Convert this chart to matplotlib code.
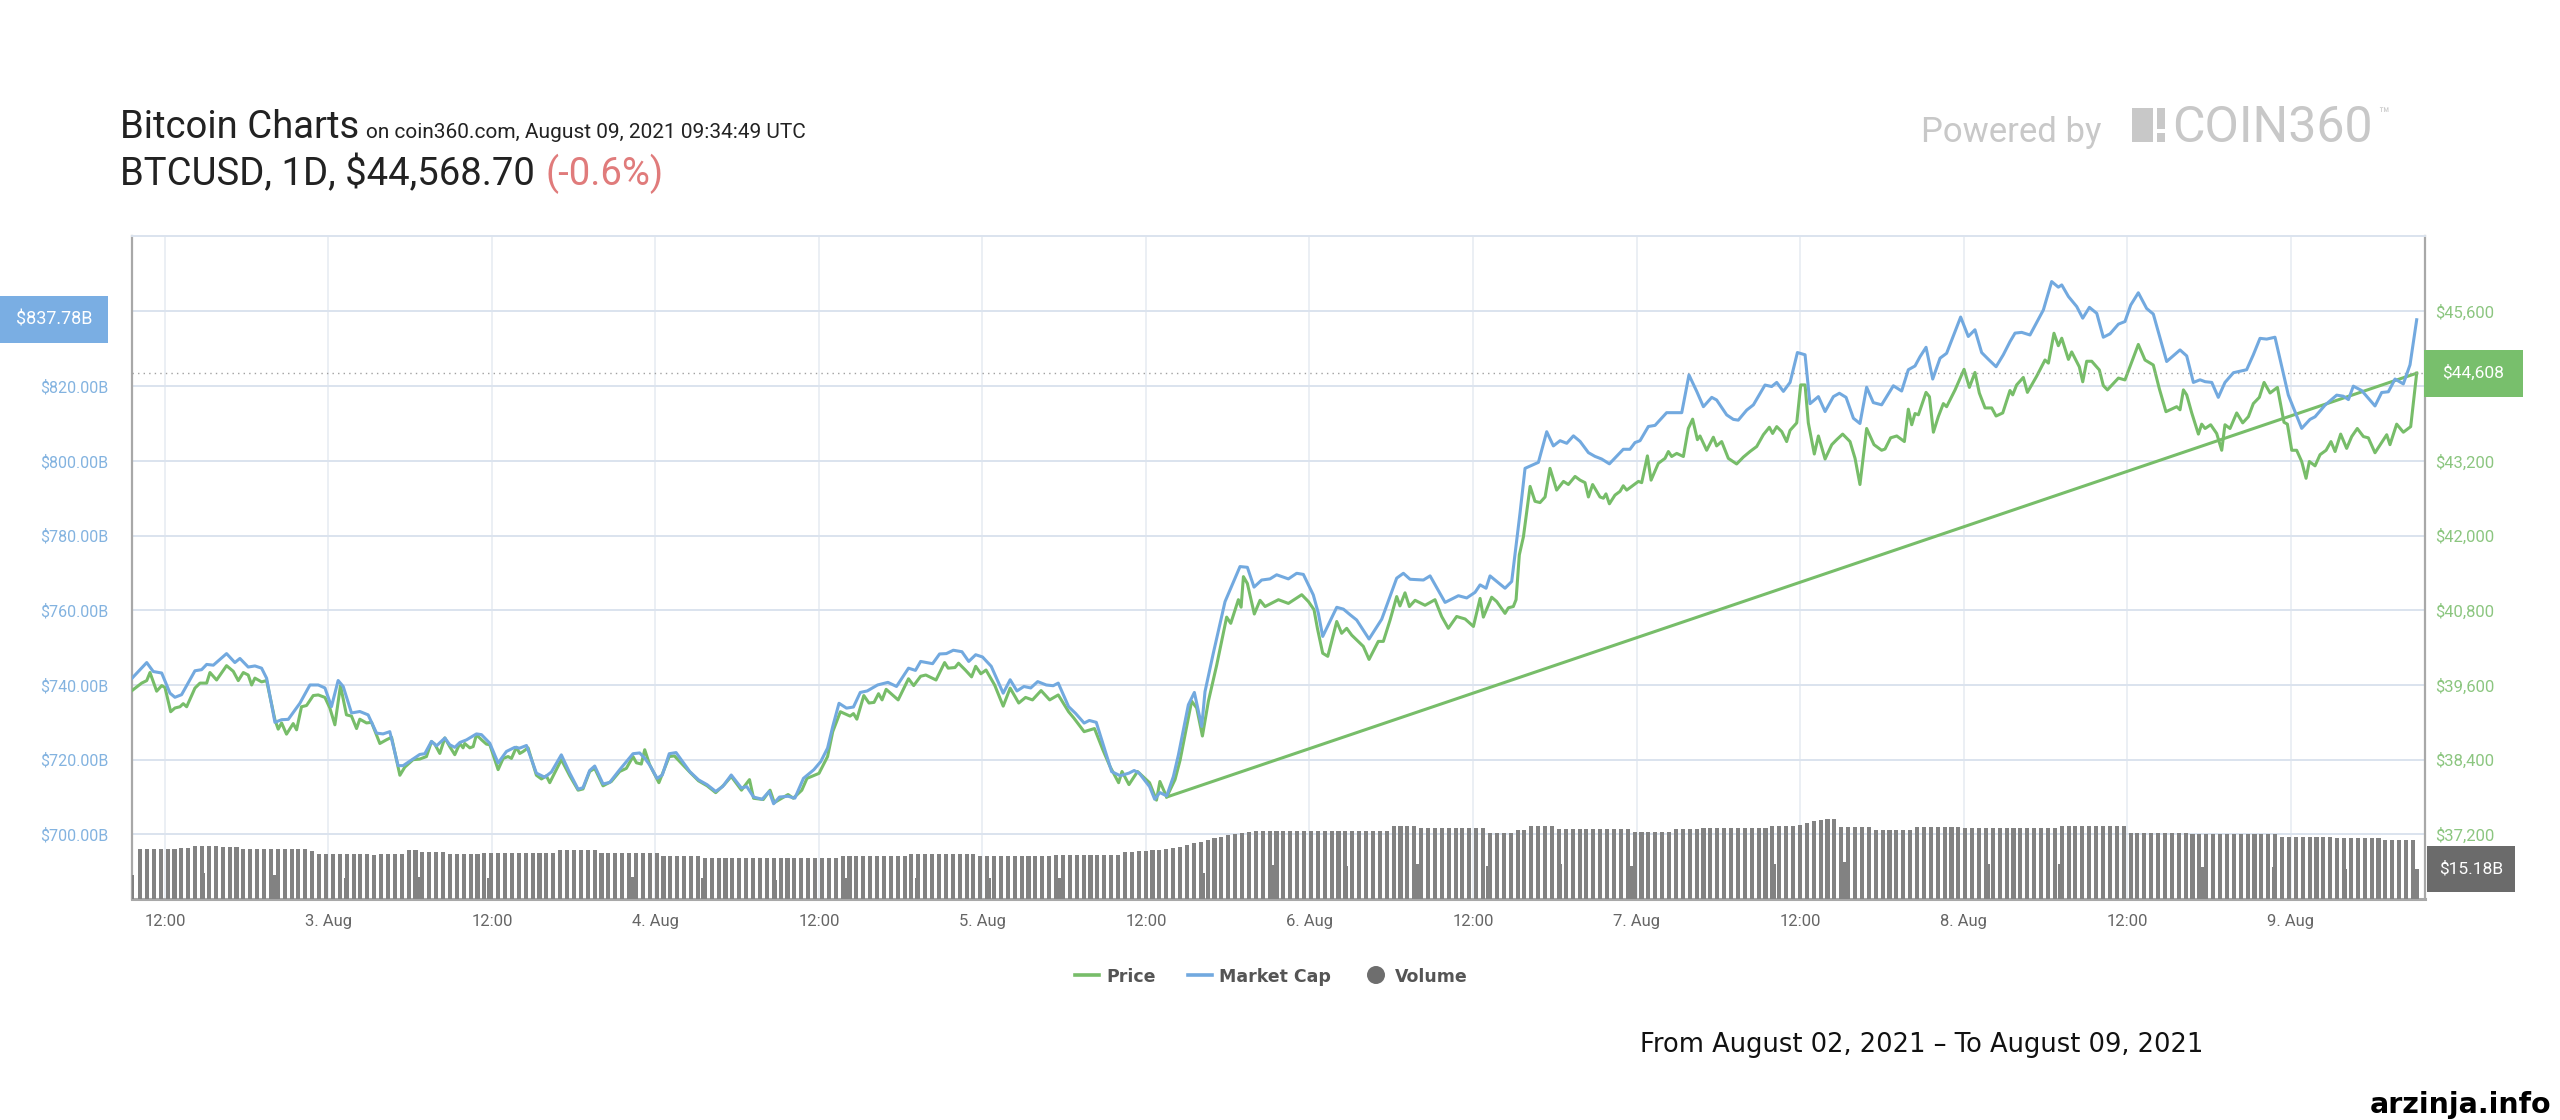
import numpy as np
import matplotlib
matplotlib.use("Agg")
import matplotlib.pyplot as plt
from matplotlib.patches import Rectangle, Ellipse
from matplotlib.lines import Line2D

plt.rcParams['font.family'] = ['Roboto', 'DejaVu Sans']

# ---------------- data (hours since 2021-08-02 00:00 UTC) ----------------
mcap_points = [  # market cap, $B
    (9.58, 741.8), (10.66, 746.0), (11.14, 743.6), (11.76, 743.2), (12.37, 737.8), (12.73, 736.7),
    (13.22, 737.4), (14.2, 743.8), (14.69, 744.1), (15.06, 745.5), (15.55, 745.3), (16.52, 748.4),
    (17.13, 746.0), (17.5, 747.1), (18.11, 744.8), (18.6, 745.1), (19.09, 744.5), (19.46, 741.8),
    (20.07, 730.0), (20.56, 730.7), (21.05, 730.8), (21.9, 735.1), (22.64, 740.0), (23.25, 740.0),
    (23.74, 739.2), (24.22, 734.2), (24.71, 741.2), (25.08, 739.6), (25.69, 732.5), (26.3, 732.9),
    (26.91, 732.0), (27.53, 727.1), (28.01, 726.9), (28.5, 727.5), (29.11, 718.4), (29.48, 718.4),
    (30.21, 720.2), (30.7, 721.4), (31.07, 721.6), (31.56, 724.9), (31.93, 723.7), (32.54, 725.8),
    (32.9, 724.0), (33.27, 723.3), (33.64, 724.6), (34.13, 725.3), (34.86, 726.9), (35.23, 726.7),
    (35.84, 724.4), (36.45, 719.1), (37.06, 722.2), (37.67, 723.3), (38.04, 723.1), (38.53, 723.8),
    (39.26, 716.4), (39.87, 715.3), (40.36, 716.7), (41.09, 721.3), (41.71, 716.4), (42.32, 712.1),
    (42.68, 712.5), (43.17, 717.1), (43.54, 718.3), (44.15, 713.5), (44.64, 713.9), (45.37, 717.3),
    (46.35, 721.6), (46.84, 721.8), (47.21, 720.4), (47.57, 718.6), (48.12, 715.0), (48.5, 715.9),
    (49.01, 721.6), (49.51, 721.9), (50.52, 716.8), (51.16, 714.6), (51.79, 713.3), (52.42, 711.5),
    (52.93, 712.8), (53.56, 715.9), (54.31, 712.4), (54.7, 712.8), (55.2, 710.0), (55.83, 709.4),
    (56.34, 711.5), (56.67, 708.2), (57.1, 710.0), (57.73, 710.2), (58.23, 709.7), (58.86, 715.0),
    (59.62, 717.3), (60.13, 719.5), (60.63, 723.1), (61.01, 728.9), (61.47, 735.1), (62.02, 733.8),
    (62.53, 734.1), (63.03, 738.0), (63.54, 738.4), (64.3, 740.0), (65.06, 740.7), (65.69, 739.6),
    (66.57, 744.5), (67.08, 743.9), (67.46, 746.3), (68.34, 745.7), (68.85, 748.3), (69.35, 748.4),
    (69.86, 749.3), (70.49, 748.9), (70.99, 746.3), (71.5, 748.1), (72.0, 747.5), (72.64, 745.0),
    (73.52, 737.8), (74.03, 741.4), (74.53, 738.4), (75.04, 739.6), (75.54, 739.2), (76.05, 740.9),
    (76.68, 740.0), (77.19, 739.8), (77.56, 740.5), (78.32, 734.2), (78.83, 732.4), (79.46, 729.8),
    (79.84, 730.5), (80.35, 730.0), (80.98, 722.6), (81.48, 716.8), (82.11, 715.7), (82.75, 716.4),
    (83.13, 717.1), (83.5, 716.4), (84.26, 712.8), (84.64, 709.4), (85.02, 711.2), (85.52, 710.3),
    (86.01, 715.5), (86.38, 721.3), (87.11, 734.7), (87.55, 738.0), (88.09, 728.9), (88.33, 738.2),
    (88.94, 748.5), (89.8, 762.3), (90.9, 771.7), (91.44, 771.5), (91.93, 766.2), (92.49, 768.1),
    (93.1, 768.4), (93.59, 769.5), (94.45, 768.4), (95.06, 769.9), (95.55, 769.6), (96.28, 764.1),
    (96.65, 759.2), (96.97, 753.0), (98.0, 760.8), (98.49, 760.3), (98.98, 758.8), (99.46, 757.4),
    (100.37, 752.3), (101.3, 757.6), (102.4, 768.6), (102.89, 769.9), (103.38, 768.3), (104.36, 768.1),
    (104.85, 769.2), (105.95, 762.1), (106.93, 763.9), (107.54, 763.3), (108.15, 764.8), (108.52, 766.8),
    (108.96, 765.9), (109.25, 769.2), (110.35, 765.9), (110.84, 767.7), (111.45, 786.0), (111.82, 798.0),
    (112.8, 799.6), (113.41, 807.8), (113.9, 804.0), (114.39, 805.4), (114.88, 804.7), (115.37, 806.7),
    (115.86, 805.2), (116.47, 802.2), (116.95, 801.2), (117.44, 800.5), (118.01, 799.2), (119.03, 803.1),
    (119.52, 803.1), (119.89, 804.9), (120.26, 805.4), (120.87, 809.2), (121.36, 809.5), (122.21, 812.9),
    (123.32, 812.9), (123.85, 823.0), (124.42, 818.6), (124.91, 814.5), (125.52, 817.0), (125.88, 816.3),
    (126.62, 812.3), (127.11, 811.1), (127.47, 810.9), (128.09, 813.6), (128.58, 815.0), (129.43, 820.3),
    (129.92, 819.9), (130.29, 821.0), (130.78, 818.6), (131.27, 821.0), (131.81, 829.0), (132.37, 828.4),
    (132.73, 815.3), (133.35, 817.2), (133.84, 813.2), (134.45, 817.2), (134.89, 818.1), (135.38, 817.0),
    (135.92, 811.4), (136.4, 810.0), (136.89, 819.7), (137.38, 815.6), (137.99, 815.0), (138.85, 820.1),
    (139.46, 818.7), (139.95, 824.4), (140.44, 825.4), (140.81, 827.9), (141.25, 830.4), (141.74, 821.9),
    (142.28, 827.5), (142.76, 828.8), (143.79, 838.5), (144.35, 833.3), (144.84, 835.1), (145.33, 829.0),
    (145.82, 827.2), (146.39, 825.2), (146.92, 828.4), (147.41, 831.9), (147.78, 834.2), (148.27, 834.4),
    (148.88, 833.7), (149.86, 840.4), (150.47, 848.0), (150.96, 846.5), (151.21, 847.1), (151.7, 844.0),
    (152.31, 841.3), (152.75, 838.2), (153.24, 841.1), (153.78, 839.5), (154.26, 833.1), (154.75, 834.0),
    (155.37, 836.6), (155.85, 837.3), (156.27, 841.7), (156.83, 845.0), (157.44, 840.8), (157.93, 839.3),
    (158.91, 826.6), (159.89, 829.7), (160.38, 828.1), (160.87, 821.0), (161.36, 821.7), (161.73, 821.2),
    (162.22, 821.0), (162.7, 817.0), (163.19, 821.0), (163.81, 823.6), (164.78, 824.4), (165.27, 828.4),
    (165.76, 832.8), (166.25, 832.6), (166.86, 833.1), (167.84, 817.6), (168.82, 808.7), (169.43, 811.1),
    (169.8, 811.8), (170.53, 814.9), (171.39, 817.6), (171.88, 817.3), (172.25, 816.4), (172.61, 820.0),
    (173.23, 818.8), (174.2, 814.7), (174.69, 818.3), (175.18, 818.5), (175.67, 821.9), (176.28, 820.6),
    (176.77, 825.7), (177.26, 837.78),
]

price_points = [  # BTC price, USD
    (9.58, 39510), (10.29, 39630), (10.66, 39670), (10.9, 39800), (11.39, 39500), (11.76, 39590),
    (12.0, 39560), (12.42, 39170), (12.73, 39230), (13.1, 39250), (13.34, 39300), (13.59, 39250),
    (14.2, 39550), (14.57, 39630), (15.06, 39630), (15.3, 39800), (15.79, 39680), (16.52, 39910),
    (17.01, 39820), (17.38, 39670), (17.75, 39800), (18.11, 39760), (18.36, 39600), (18.6, 39710),
    (19.09, 39650), (19.46, 39670), (20.07, 39040), (20.31, 38890), (20.56, 38990), (20.92, 38810),
    (21.41, 38980), (21.66, 38880), (22.02, 39250), (22.39, 39270), (22.88, 39430), (23.25, 39440),
    (23.74, 39400), (24.1, 39230), (24.47, 38960), (24.88, 39590), (25.32, 39120), (25.69, 39100),
    (26.06, 38900), (26.3, 39050), (26.79, 38990), (27.16, 39000), (27.77, 38660), (28.26, 38720),
    (28.63, 38760), (29.24, 38150), (29.6, 38280), (30.21, 38400), (30.7, 38410), (31.19, 38450),
    (31.56, 38690), (31.8, 38650), (32.17, 38500), (32.54, 38750), (32.9, 38610), (33.27, 38480),
    (33.64, 38660), (33.88, 38590), (34.0, 38660), (34.37, 38590), (34.62, 38610), (34.86, 38800),
    (35.23, 38720), (35.59, 38650), (35.84, 38640), (36.45, 38240), (36.82, 38420), (37.18, 38450),
    (37.43, 38420), (37.79, 38600), (38.04, 38500), (38.28, 38530), (38.65, 38590), (39.26, 38150),
    (39.63, 38090), (39.99, 38140), (40.24, 38030), (41.09, 38400), (41.71, 38140), (42.32, 37910),
    (42.68, 37930), (43.17, 38210), (43.54, 38260), (44.15, 37980), (44.76, 38050), (45.37, 38210),
    (45.86, 38260), (46.35, 38450), (46.6, 38350), (46.96, 38330), (47.21, 38560), (47.57, 38320),
    (48.25, 38030), (49.01, 38450), (49.39, 38460), (50.52, 38200), (51.16, 38060), (51.79, 37980),
    (52.42, 37870), (53.05, 38000), (53.56, 38130), (54.31, 37910), (54.9, 38080), (55.2, 37780),
    (55.91, 37760), (56.41, 37910), (56.72, 37710), (57.73, 37840), (58.11, 37780), (58.74, 37910),
    (59.12, 38100), (60.0, 38180), (60.63, 38450), (61.01, 38850), (61.57, 39170), (62.28, 39100),
    (62.53, 39140), (62.78, 39050), (63.29, 39430), (63.67, 39310), (64.04, 39320), (64.37, 39460),
    (64.63, 39360), (64.93, 39530), (65.81, 39360), (66.57, 39700), (66.95, 39590), (67.46, 39740),
    (67.84, 39760), (68.59, 39680), (69.22, 39960), (69.48, 39870), (69.98, 39880), (70.24, 39950),
    (70.74, 39840), (71.2, 39730), (71.5, 39900), (71.88, 39780), (72.26, 39840), (72.89, 39600),
    (73.52, 39260), (74.03, 39550), (74.66, 39310), (75.16, 39400), (75.67, 39360), (76.3, 39510),
    (76.93, 39360), (77.56, 39440), (78.32, 39170), (78.7, 39070), (79.46, 38850), (80.22, 38900),
    (80.85, 38550), (81.36, 38290), (81.99, 38030), (82.24, 38210), (82.75, 38000), (83.38, 38210),
    (84.26, 38030), (84.77, 37750), (85.02, 38050), (85.52, 37800), (86.13, 38080), (86.5, 38390),
    (86.74, 38660), (87.35, 39340), (87.72, 39230), (88.14, 38780), (88.58, 39340), (89.19, 39920),
    (89.92, 40690), (90.22, 40590), (90.78, 40970), (90.98, 40850), (91.15, 41340), (91.44, 41230),
    (91.95, 40740), (92.37, 40960), (92.74, 40860), (93.72, 40970), (94.45, 40910), (95.43, 41050),
    (95.92, 40940), (96.33, 40810), (96.58, 40510), (96.97, 40110), (97.34, 40060), (98.0, 40620),
    (98.36, 40430), (98.73, 40510), (99.1, 40400), (99.95, 40220), (100.37, 40010), (101.05, 40300),
    (101.42, 40300), (101.91, 40640), (102.4, 41020), (102.64, 40870), (103.01, 41080), (103.33, 40860),
    (103.75, 40960), (104.48, 40880), (105.21, 40970), (105.7, 40700), (106.19, 40510), (106.8, 40700),
    (107.42, 40660), (108.03, 40540), (108.52, 40990), (108.76, 40690), (109.37, 41010), (109.74, 40940),
    (110.35, 40750), (110.6, 40840), (110.96, 40860), (111.16, 40970), (111.4, 41690), (111.7, 41980),
    (112.19, 42790), (112.55, 42550), (112.92, 42530), (113.29, 42620), (113.65, 43080), (114.14, 42730),
    (114.64, 42870), (115.0, 42820), (115.49, 42950), (115.86, 42890), (116.22, 42850), (116.47, 42620),
    (116.78, 42820), (117.32, 42620), (117.57, 42600), (117.76, 42670), (118.01, 42510), (118.42, 42650),
    (118.79, 42710), (119.03, 42800), (119.28, 42730), (120.14, 42870), (120.38, 42850), (120.8, 43280),
    (121.07, 42890), (121.6, 43160), (122.09, 43240), (122.34, 43350), (122.58, 43270), (122.95, 43320),
    (123.44, 43270), (123.8, 43720), (124.12, 43870), (124.47, 43540), (124.66, 43600), (125.15, 43370),
    (125.64, 43580), (125.88, 43440), (126.25, 43510), (126.74, 43240), (127.35, 43150), (127.84, 43260),
    (128.33, 43350), (128.82, 43430), (129.31, 43620), (129.75, 43740), (129.99, 43640), (130.29, 43750),
    (130.66, 43670), (131.02, 43510), (131.27, 43690), (131.76, 43810), (132.05, 44420), (132.37, 44420),
    (132.61, 43810), (133.05, 43310), (133.35, 43600), (133.84, 43230), (134.33, 43460), (134.69, 43540),
    (135.13, 43630), (135.67, 43510), (136.04, 43240), (136.4, 42820), (136.89, 43720), (137.43, 43460),
    (137.99, 43370), (138.24, 43390), (138.65, 43570), (139.1, 43600), (139.66, 43510), (139.95, 44030),
    (140.2, 43780), (140.44, 43960), (140.69, 43940), (141.25, 44300), (141.5, 44230), (141.79, 43660),
    (142.15, 43910), (142.52, 44120), (142.76, 44070), (143.38, 44340), (144.04, 44670), (144.43, 44380),
    (144.84, 44620), (145.16, 44290), (145.58, 44050), (146.07, 44050), (146.39, 43920), (146.88, 43970),
    (147.41, 44330), (147.61, 44260), (147.9, 44420), (148.39, 44540), (148.69, 44300), (149.37, 44560),
    (149.98, 44820), (150.23, 44770), (150.64, 45250), (150.96, 45050), (151.21, 45170), (151.7, 44830),
    (151.94, 44950), (152.5, 44710), (152.75, 44470), (153.04, 44800), (153.41, 44800), (153.97, 44660),
    (154.26, 44410), (154.56, 44340), (155.37, 44530), (155.85, 44500), (156.83, 45070), (157.32, 44820),
    (157.93, 44740), (158.37, 44360), (158.86, 43990), (159.65, 44070), (159.89, 44020), (160.14, 44340),
    (160.38, 44260), (160.75, 43970), (161.24, 43630), (161.48, 43790), (161.73, 43720), (162.14, 43780),
    (162.58, 43640), (162.95, 43370), (163.19, 43780), (163.56, 43720), (164.05, 43970), (164.49, 43810),
    (164.91, 43910), (165.27, 44120), (165.71, 44220), (166.06, 44460), (166.5, 44290), (167.04, 44380),
    (167.52, 43820), (167.77, 43790), (168.09, 43370), (168.45, 43370), (168.82, 43190), (169.14, 42920),
    (169.38, 43190), (169.8, 43120), (170.17, 43300), (170.61, 43370), (170.97, 43510), (171.27, 43350),
    (171.68, 43630), (172.12, 43400), (172.49, 43590), (172.9, 43720), (173.35, 43590), (173.71, 43570),
    (174.2, 43330), (175.06, 43620), (175.3, 43460), (175.79, 43790), (176.28, 43660), (176.82, 43750),
    (177.26, 44608),
]
# the price line also has a straight segment joining this point to the last price
price_jump_from_hour = 85.52

# 24h volume ($B), one bar every ~30 minutes
volume_start_hour = 10.17
volume_step_hours = 0.5055
volume_values = [
    25.3, 25.3, 25.3, 25.3, 25.3, 25.3, 25.8, 25.8, 27.0, 27.0, 27.0, 27.0,
    26.2, 26.2, 26.2, 25.3, 25.3, 25.3, 25.3, 25.3, 25.3, 25.3, 25.3, 25.3, 25.3,
    24.1, 22.9, 22.9, 22.9, 22.9, 22.9, 22.9, 22.9, 22.9, 22.1, 22.9, 22.9, 22.9, 22.9,
    24.6, 24.6, 23.8, 23.8, 23.8, 23.8, 22.9, 22.9, 22.9, 22.9, 22.9,
    23.4, 23.4, 23.4, 23.4, 23.4, 23.4, 23.4, 23.4, 23.4, 23.4, 23.4,
    24.7, 24.7, 24.7, 24.7, 24.7, 24.7,
    23.4, 23.4, 23.4, 23.4, 23.4, 23.4, 23.4, 23.4, 23.4,
    22.0, 22.0, 22.0, 22.0, 22.0, 22.0,
    20.8, 20.8, 20.8, 20.8, 20.8, 20.8, 20.8, 20.8, 20.8, 20.8,
    20.8, 20.8, 20.8, 20.8, 20.8, 20.8, 20.8, 20.8, 20.8, 20.8,
    21.8, 21.8, 21.8, 21.8, 21.8, 21.8, 21.8, 21.8, 21.8, 21.8,
    22.8, 22.8, 22.8, 22.8, 22.8, 22.8, 22.8, 22.8, 22.8, 22.8,
    21.8, 21.8, 21.8, 21.8, 21.8, 21.8, 21.8, 21.8, 21.8, 21.8, 21.8,
    22.3, 22.3, 22.3, 22.3, 22.3, 22.3, 22.3, 22.3, 22.3, 22.3,
    23.9, 23.9, 24.2, 24.4, 24.6, 24.9, 25.1, 25.6,
    26.5, 27.4, 28.2, 29.0, 29.9, 30.7,
    31.5, 32.3, 33.0, 33.6, 34.1, 34.4, 34.6,
    34.6, 34.6, 34.6, 34.6, 34.6, 34.6, 34.6, 34.6, 34.6,
    34.6, 34.6, 34.6, 34.6, 34.6, 34.6, 34.6, 34.6, 34.6,
    37.1, 37.1, 37.1, 37.1, 35.7, 35.7, 35.7, 35.7, 35.7, 35.7, 35.7, 35.7, 35.7, 35.7,
    33.4, 33.4, 33.4, 33.4, 34.9, 34.9, 37.1, 37.1, 37.1, 37.1,
    35.4, 35.4, 35.4, 35.4, 35.4, 35.4, 35.4, 35.4, 35.4, 35.4, 35.4,
    34.1, 34.1, 34.1, 34.1, 34.1, 34.1, 35.4, 35.4, 35.4, 35.4,
    35.9, 35.9, 35.9, 35.9, 35.9, 35.9, 35.9, 35.9, 35.9, 35.9,
    36.9, 36.9, 36.9, 36.9, 37.5, 38.5, 39.5, 40.2, 40.5, 40.5,
    36.4, 36.4, 36.4, 36.4, 36.4, 34.9, 34.9, 34.9, 34.9, 34.9, 34.9,
    36.2, 36.2, 36.2, 36.2, 36.2, 36.2, 36.2,
    35.9, 35.9, 35.9, 35.9, 35.9, 35.9, 35.9, 35.9, 35.9, 35.9, 35.9, 35.9, 35.9, 35.9,
    37.1, 37.1, 37.1, 37.1, 37.1, 37.1, 37.1, 37.1, 37.1, 37.1,
    33.4, 33.4, 33.4, 33.4, 33.4, 33.4, 33.4, 33.4, 33.4,
    32.9, 32.9, 32.9, 32.9, 32.9, 32.9, 32.9, 32.9, 32.9, 32.9, 32.9, 32.9, 32.9,
    31.6, 31.6, 31.6, 31.6, 31.6, 31.6, 31.6, 31.6,
    31.1, 31.1, 31.1, 31.1, 31.1, 31.1, 31.1,
    29.9, 29.9, 29.9, 29.9, 29.9,
]
# shorter (partial-period) volume bars
partial_start_hour = 9.58
partial_step_hours = 5.24
partial_volume_values = [
    12.1, 13.0, 12.1, 10.5, 11.3, 10.5, 11.3, 11.0, 10.5, 9.6, 10.5, 10.5, 10.5, 10.5,
    11.3, 13.0, 17.2, 16.9, 17.7, 16.9, 17.7, 16.9, 17.7, 17.7, 18.6, 16.9, 17.7, 17.7,
    16.9, 16.0, 16.0, 15.2, 15.18,
]

x_tick_hours = [12, 24, 36, 48, 60, 72, 84, 96, 108, 120, 132, 144, 156, 168]
x_tick_labels = ['12:00', '3. Aug', '12:00', '4. Aug', '12:00', '5. Aug', '12:00',
                 '6. Aug', '12:00', '7. Aug', '12:00', '8. Aug', '12:00', '9. Aug']
mcap_ticks = [700, 720, 740, 760, 780, 800, 820, 840]
price_ticks = [37200, 38400, 39600, 40800, 42000, 43200, 44400, 45600]

# ---------------- styling ----------------
W, H = 2560, 1120
BLUE = '#72a9df'
GREEN = '#77bd69'
BLUE_LBL = '#83b3e0'
GREEN_LBL = '#8cc680'
GRID_H = '#dbe3ee'
GRID_V = '#e8ecf2'
AXLINE = '#a8a8a8'
BAR = '#828282'
LW = 2.2

def fx(px):
    return px / W

def fy(py):
    return 1 - py / H

fig = plt.figure(figsize=(W / 100, H / 100), dpi=100)
fig.patch.set_facecolor('white')

L, R, T, B = 132, 2425, 236, 899
ax = fig.add_axes([fx(L), fy(B), fx(R) - fx(L), fy(T) - fy(B)])
ax.set_xlim(9.58, 177.87)
ax.set_ylim(682.7, 860.2)

ax_vol = ax.twinx()
ax_vol.set_ylim(0, 335.5)
ax_price = ax.twinx()
ax_price.set_ylim(36162, 46812)
ax_mc = ax.twinx()
ax_mc.set_ylim(ax.get_ylim())

m_h = np.array([p[0] for p in mcap_points])
m_v = np.array([p[1] for p in mcap_points])
p_h = np.array([p[0] for p in price_points])
p_v = np.array([p[1] for p in price_points])

# grid + ticks (the top label is hidden behind the current-value badge, as in the source)
ax.set_xticks(x_tick_hours)
ax.set_xticklabels(x_tick_labels)
ax.set_yticks(mcap_ticks)
ax.set_yticklabels(['' if v > m_v[-1] else f'${v:.2f}B' for v in mcap_ticks])
ax.grid(axis='y', color=GRID_H, lw=1.4)
ax.grid(axis='x', color=GRID_V, lw=1.2)
ax.set_axisbelow(True)
ax.tick_params(axis='x', length=0, pad=11, labelsize=12, labelcolor='#666666')
ax.tick_params(axis='y', length=0, pad=17, labelsize=11.5, labelcolor=BLUE_LBL)

ax_price.set_yticks(price_ticks)
ax_price.set_yticklabels([f'${v:,}' for v in price_ticks])
ax_price.tick_params(axis='y', length=0, pad=7, labelsize=12, labelcolor=GREEN_LBL)
ax_vol.set_yticks([])
ax_mc.set_yticks([])

for a in (ax_vol, ax_price, ax_mc):
    for s in a.spines.values():
        s.set_visible(False)
ax.spines['left'].set_color(AXLINE)
ax.spines['left'].set_linewidth(1.6)
ax.spines['right'].set_color(AXLINE)
ax.spines['right'].set_linewidth(1.6)
ax.spines['top'].set_color(GRID_H)
ax.spines['top'].set_linewidth(1.4)
ax.spines['bottom'].set_color(AXLINE)
ax.spines['bottom'].set_linewidth(2.2)

# volume bars
vol_hours = volume_start_hour + volume_step_hours * np.arange(len(volume_values))
ax_vol.bar(vol_hours, volume_values, width=0.3, color=BAR, linewidth=0)
part_hours = partial_start_hour + partial_step_hours * np.arange(len(partial_volume_values))
ax_vol.bar(part_hours, partial_volume_values, width=0.3, color=BAR, linewidth=0)

# price
ax_price.plot(p_h, p_v, color=GREEN, lw=LW, solid_joinstyle='round')
i_jump = int(np.argmin(np.abs(p_h - price_jump_from_hour)))
ax_price.plot([p_h[i_jump], p_h[-1]], [p_v[i_jump], p_v[-1]], color=GREEN, lw=LW)
ax_price.axhline(p_v[-1], color='#a0a0a0', lw=1.0, ls=(0, (1, 3)))

# market cap
ax_mc.plot(m_h, m_v, color=BLUE, lw=LW, solid_joinstyle='round')

# ---------------- value badges ----------------
def badge(axis, yval, x0, x1, h, fc, text, fs):
    ydisp = axis.transData.transform((axis.get_xlim()[0], yval))[1]
    yc = H - ydisp
    fig.add_artist(Rectangle((fx(x0), fy(yc + h / 2)), fx(x1) - fx(x0), h / H,
                             transform=fig.transFigure, fc=fc, ec='none', zorder=5))
    fig.text(fx((x0 + x1) / 2), fy(yc), text, color='white', ha='center',
             va='center', fontsize=fs, zorder=6)

badge(ax_mc, m_v[-1], 0, 108, 47, '#7aaee3', f'${m_v[-1]:.2f}B', 13)
badge(ax_price, p_v[-1], 2424, 2523, 47, '#78bf6c', f'${p_v[-1]:,.0f}', 12.5)
badge(ax_vol, partial_volume_values[-1], 2427, 2515, 46, '#6b6b6b',
      f'${partial_volume_values[-1]:.2f}B', 12.5)

# ---------------- titles ----------------
fig.text(fx(120), fy(138), 'Bitcoin Charts', fontsize=27.5, color='#222222', va='baseline')
fig.text(fx(366), fy(138), 'on coin360.com, August 09, 2021 09:34:49 UTC', fontsize=15,
         color='#222222', va='baseline')
fig.text(fx(120), fy(185), 'BTCUSD, 1D, $44,568.70', fontsize=27.5, color='#222222', va='baseline')
fig.text(fx(546), fy(185), '(-0.6%)', fontsize=27.5, color='#e07b7b', va='baseline')

# Powered by COIN360
LOGO = '#c8c8c8'
fig.text(fx(1921), fy(142), 'Powered by', fontsize=25, color=LOGO, va='baseline')
fig.add_artist(Rectangle((fx(2132), fy(142)), fx(2153) - fx(2132), 34 / H,
                         transform=fig.transFigure, fc=LOGO, ec='none'))
fig.add_artist(Rectangle((fx(2157), fy(129)), fx(2165) - fx(2157), 21 / H,
                         transform=fig.transFigure, fc=LOGO, ec='none'))
fig.add_artist(Rectangle((fx(2157), fy(142)), fx(2165) - fx(2157), 9 / H,
                         transform=fig.transFigure, fc=LOGO, ec='none'))
fig.text(fx(2172), fy(142), 'COIN360', fontsize=36, color=LOGO, va='baseline')
fig.text(fx(2378), fy(106), '™', fontsize=13, color=LOGO, va='top')

# ---------------- legend ----------------
LY = 975
LEG_FONT = dict(family=['DejaVu Sans'], fontsize=12.5, fontweight='bold', color='#555555',
                va='center_baseline')
fig.add_artist(Line2D([fx(1075), fx(1099)], [fy(LY), fy(LY)], color=GREEN, lw=2.6,
                      transform=fig.transFigure))
fig.text(fx(1106), fy(LY), 'Price', **LEG_FONT)
fig.add_artist(Line2D([fx(1188), fx(1212)], [fy(LY), fy(LY)], color=BLUE, lw=2.6,
                      transform=fig.transFigure))
fig.text(fx(1219), fy(LY), 'Market Cap', **LEG_FONT)
fig.add_artist(Ellipse((fx(1376), fy(LY)), 18 / W, 18 / H, transform=fig.transFigure,
                       fc='#6e6e6e', ec='none'))
fig.text(fx(1395), fy(LY), 'Volume', **LEG_FONT)

# ---------------- footer ----------------
fig.text(fx(1640), fy(1052), 'From August 02, 2021 – To August 09, 2021',
         family=['DejaVu Sans'], fontsize=18.5, color='#111111', va='baseline')
fig.text(fx(2370), fy(1113), 'arzinja.info', family=['DejaVu Sans'], fontsize=20.5,
         fontweight='bold', color='#000000', va='baseline')

fig.savefig('out.png', dpi=100, facecolor='white')
